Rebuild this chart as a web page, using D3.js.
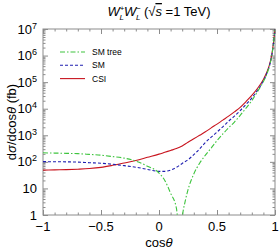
<!DOCTYPE html>
<meta charset="utf-8">
<script src="https://d3js.org/d3.v7.min.js"></script>
<style>
  body { margin: 0; background: #fff; }
  text { font-family: "Liberation Sans", Arial, sans-serif; fill: #000; }
</style>
<div id="chart"></div>
<script>

// cos(theta) grid for SM and CSI curves
var cosGrid = [-1, -0.9, -0.8, -0.7, -0.6, -0.5, -0.4, -0.3, -0.2, -0.1, 0, 0.05, 0.1, 0.15, 0.2, 0.25,
  0.3, 0.35, 0.4, 0.45, 0.5, 0.55, 0.6, 0.65, 0.7, 0.75, 0.8, 0.85, 0.9, 0.93, 0.95, 0.97, 0.98, 0.99, 1.0];

// dsigma/dcos(theta) in fb
var csi = [49, 50, 51, 53, 56, 62, 74, 91, 112, 148, 195, 229, 269, 316, 398, 550,
  741, 1000, 1350, 1900, 2630, 3720, 5250, 7590, 11200, 18600, 31600, 58900, 126000, 240000, 417000, 955000, 1.78e6, 3.98e6, 1.0e7];
var sm = [102, 101, 100, 98, 93, 89, 81, 72, 63, 52, 44, 44, 49, 62, 87, 120,
  186, 309, 537, 851, 1320, 2090, 3390, 5250, 8510, 14500, 25100, 50100, 112000, 214000, 380000, 891000, 1.7e6, 3.9e6, 9.8e6];

// SM tree has a zero near cos(theta) ~ 0.18, so a finer grid there
var cosTree = [-1, -0.9, -0.8, -0.7, -0.6, -0.5, -0.4, -0.3, -0.2, -0.1, 0, 0.05, 0.1, 0.15, 0.175, 0.19, 0.2, 0.225, 0.25,
  0.3, 0.35, 0.4, 0.45, 0.5, 0.55, 0.6, 0.65, 0.7, 0.75, 0.8, 0.85, 0.9, 0.93, 0.95, 0.97, 0.98, 0.99, 1.0];
var smTree = [219, 214, 209, 204, 191, 178, 158, 138, 107, 69, 38, 20, 6.6, 1.8, 0.25, 0.3, 0.8, 3.2, 8.9,
  35, 89, 178, 331, 631, 1120, 1910, 3160, 5620, 10500, 20000, 44700, 105000, 204000, 372000, 871000, 1.66e6, 3.8e6, 9.5e6];

var xTicks = [-1, -0.5, 0, 0.5, 1];
var xTickLabels = ["\u22121", "\u22120.5", "0", "0.5", "1"];
var yExp = [0, 1, 2, 3, 4, 5, 6, 7];

var width = 280, height = 251;
var margin = {top: 29, right: 5, bottom: 36, left: 43};
var plotW = width - margin.left - margin.right,
    plotH = height - margin.top - margin.bottom;

var svg = d3.select("#chart").append("svg")
  .attr("width", width)
  .attr("height", height);

var g = svg.append("g")
  .attr("transform", "translate(" + margin.left + "," + margin.top + ")");

var x = d3.scaleLinear().domain([-1, 1]).range([0, plotW]);
var y = d3.scaleLog().domain([1, 1e7]).range([plotH, 0]);

// minor tick values
var xMinor = d3.range(-10, 11).map(function(i) { return i / 10; });
var yMinor = [];
yExp.slice(0, 7).forEach(function(e) {
  for (var k = 2; k <= 9; k++) yMinor.push(k * Math.pow(10, e));
});
var yMajor = yExp.map(function(e) { return Math.pow(10, e); });

var axisColor = "#8c8c8c";

function styleAxis(sel) {
  sel.select(".domain").remove();
  sel.selectAll("line").attr("stroke", axisColor).attr("stroke-width", 1);
  sel.selectAll("text").remove();
}

// inward ticks on all four sides
g.append("g").attr("transform", "translate(0," + plotH + ")")
  .call(d3.axisBottom(x).tickValues(xMinor).tickSize(-2.5)).call(styleAxis);
g.append("g").attr("transform", "translate(0," + plotH + ")")
  .call(d3.axisBottom(x).tickValues(xTicks).tickSize(-5)).call(styleAxis);
g.append("g")
  .call(d3.axisTop(x).tickValues(xMinor).tickSize(-2.5)).call(styleAxis);
g.append("g")
  .call(d3.axisTop(x).tickValues(xTicks).tickSize(-5)).call(styleAxis);
g.append("g")
  .call(d3.axisLeft(y).tickValues(yMinor).tickSize(-2.5)).call(styleAxis);
g.append("g")
  .call(d3.axisLeft(y).tickValues(yMajor).tickSize(-5)).call(styleAxis);
g.append("g").attr("transform", "translate(" + plotW + ",0)")
  .call(d3.axisRight(y).tickValues(yMinor).tickSize(-2.5)).call(styleAxis);
g.append("g").attr("transform", "translate(" + plotW + ",0)")
  .call(d3.axisRight(y).tickValues(yMajor).tickSize(-5)).call(styleAxis);

// frame
g.append("rect")
  .attr("width", plotW).attr("height", plotH)
  .attr("fill", "none").attr("stroke", axisColor).attr("stroke-width", 1);

// x tick labels
g.selectAll(".xlab").data(xTicks).enter().append("text")
  .attr("x", function(d) { return x(d); })
  .attr("y", plotH + 16)
  .attr("text-anchor", "middle")
  .style("font-size", "13px")
  .text(function(d, i) { return xTickLabels[i]; });

// y tick labels
yExp.forEach(function(e) {
  var t = g.append("text")
    .attr("x", -6)
    .attr("y", y(Math.pow(10, e)) + 4.5)
    .attr("text-anchor", "end")
    .style("font-size", "13px");
  if (e === 0) t.text("1");
  else if (e === 1) t.text("10");
  else {
    t.append("tspan").text("10");
    t.append("tspan").attr("dy", -5).style("font-size", "9px").text(e);
  }
});

// curves
g.append("clipPath").attr("id", "clip")
  .append("rect").attr("width", plotW).attr("height", plotH);

var line = d3.line()
  .x(function(d) { return x(d[0]); })
  .y(function(d) { return y(d[1]); })
  .curve(d3.curveMonotoneX);

var series = [
  {name: "SM tree", xs: cosTree, ys: smTree, color: "#3ec43e", dash: "5,2,1.5,2"},
  {name: "SM", xs: cosGrid, ys: sm, color: "#1f1fb0", dash: "3,2"},
  {name: "CSI", xs: cosGrid, ys: csi, color: "#c8141e", dash: null}
];

var curves = g.append("g").attr("clip-path", "url(#clip)");
series.slice().reverse().forEach(function(s) {
  curves.append("path")
    .datum(s.xs.map(function(c, i) { return [c, s.ys[i]]; }))
    .attr("d", line)
    .attr("fill", "none")
    .attr("stroke", s.color)
    .attr("stroke-width", 1.1)
    .attr("stroke-dasharray", s.dash);
});

// legend
var legend = g.append("g").attr("transform", "translate(17,23)");
series.forEach(function(s, i) {
  legend.append("line")
    .attr("x1", 0).attr("x2", 25)
    .attr("y1", i * 13.3).attr("y2", i * 13.3)
    .attr("stroke", s.color).attr("stroke-width", 1.1)
    .attr("stroke-dasharray", s.dash);
  legend.append("text")
    .attr("x", 32).attr("y", i * 13.3 + 3)
    .style("font-size", "8.5px")
    .text(s.name);
});

// title: W_L^+ W_L^- with stacked sub/superscripts
var title = svg.append("text")
  .attr("x", margin.left + plotW / 2)
  .attr("y", 16)
  .attr("text-anchor", "middle")
  .style("font-size", "13px");
title.append("tspan").style("font-style", "italic").text("W");
title.append("tspan").attr("dy", -5.5).style("font-size", "8px").text("+");
title.append("tspan").attr("dx", -5).attr("dy", 9).style("font-size", "8px").style("font-style", "italic").text("L");
title.append("tspan").attr("dy", -3.5).style("font-style", "italic").text("W");
title.append("tspan").attr("dy", -5.5).style("font-size", "8px").text("\u2212");
title.append("tspan").attr("dx", -5).attr("dy", 9).style("font-size", "8px").style("font-style", "italic").text("L");
title.append("tspan").attr("dy", -3.5).text(" (\u221A");
title.append("tspan").style("font-style", "italic").style("text-decoration", "overline").text("s");
title.append("tspan").text(" =1 TeV)");

// axis titles
var xl = svg.append("text")
  .attr("x", margin.left + plotW / 2)
  .attr("y", 247)
  .attr("text-anchor", "middle")
  .style("font-size", "13px");
xl.append("tspan").text("cos");
xl.append("tspan").style("font-style", "italic").text("\u03B8");

var yl = svg.append("text")
  .attr("transform", "translate(16," + (margin.top + plotH / 2) + ") rotate(-90)")
  .attr("text-anchor", "middle")
  .style("font-size", "13px");
yl.append("tspan").text("d");
yl.append("tspan").style("font-style", "italic").text("\u03C3");
yl.append("tspan").text("/dcos");
yl.append("tspan").style("font-style", "italic").text("\u03B8");
yl.append("tspan").text(" (fb)");

</script>
